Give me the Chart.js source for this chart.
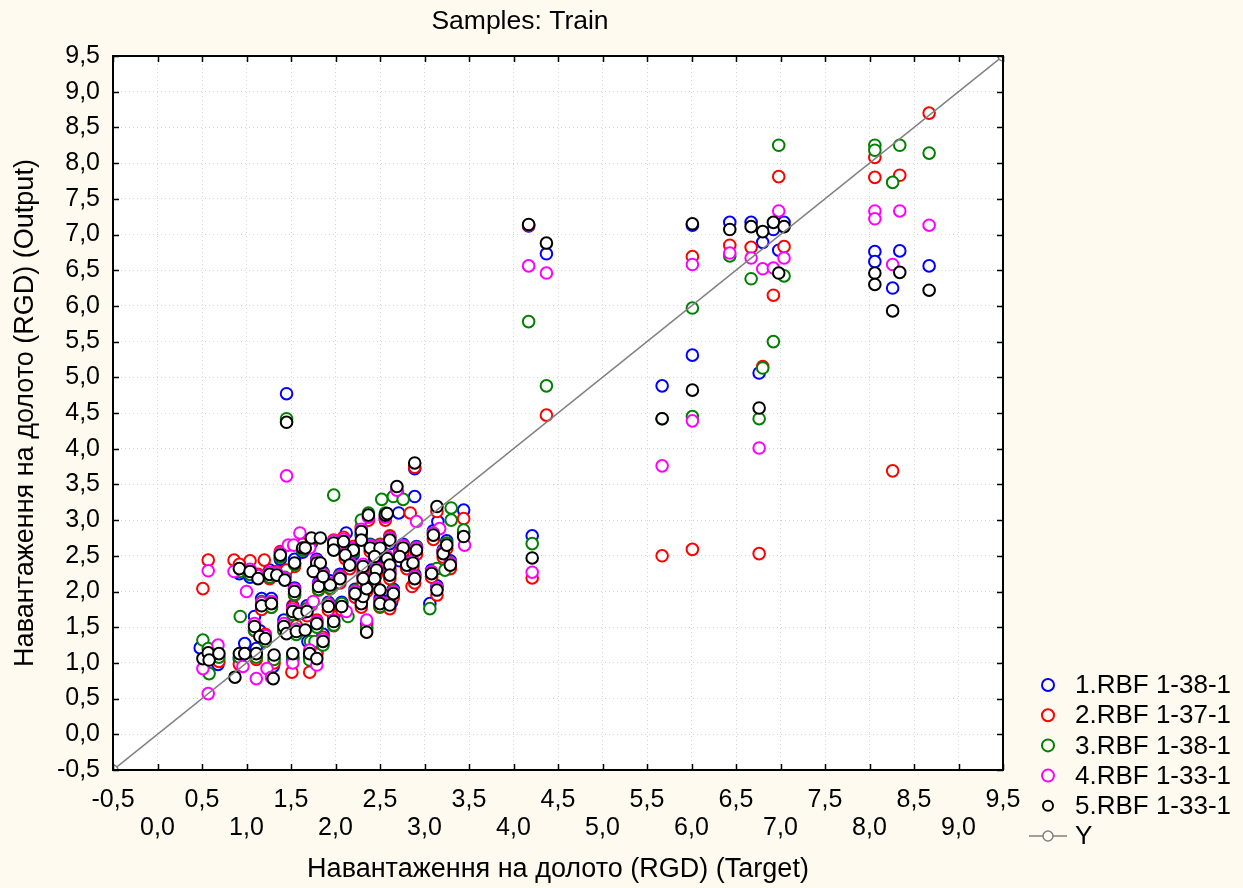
<!DOCTYPE html>
<html>
<head>
<meta charset="utf-8">
<script src="https://cdn.jsdelivr.net/npm/chart.js@4.4.1/dist/chart.umd.min.js"></script>
<style>
  html, body { margin: 0; padding: 0; background: #fefaf0; overflow: hidden; }
  canvas { display: block; }
</style>
</head>
<body>
<canvas id="c" width="1243" height="888"></canvas>
<script>
// ---------------- DATA ----------------
const chartTitle = 'Samples: Train';
const xAxisTitle = 'Навантаження на долото (RGD) (Target)';
const yAxisTitle = 'Навантаження на долото (RGD) (Output)';
const seriesNames = ['1.RBF 1-38-1', '2.RBF 1-37-1', '3.RBF 1-38-1', '4.RBF 1-33-1', '5.RBF 1-33-1'];
const lineName = 'Y';
const axisMin = -0.5;
const axisMax = 9.5;
const tickStep = 0.5;

// [target, output] pairs
const rbf1 = [
  [0.48,1.21],[0.57,1.10],[0.68,0.98],[0.92,1.05],[0.98,1.27],[1.09,1.65],[1.11,1.20],[1.15,1.45],[1.30,0.95],[1.42,1.60],
  [1.52,1.05],[1.56,1.50],[1.69,1.30],[1.79,1.15],[1.86,1.40],[1.98,1.65],[2.35,1.55],[1.17,1.90],[1.28,1.90],[1.52,1.80],
  [1.68,1.80],[1.54,2.05],[1.92,1.85],[2.07,1.85],[2.29,1.90],[2.50,1.90],[2.61,1.88],[2.22,2.03],[2.65,2.03],[2.35,2.10],
  [1.81,2.12],[1.94,2.15],[0.92,2.25],[1.04,2.20],[1.26,2.30],[1.43,2.22],[1.38,2.45],[1.54,2.45],[1.63,2.55],[1.73,2.68],
  [1.79,2.45],[1.98,2.62],[2.09,2.63],[2.12,2.82],[2.29,2.78],[2.39,2.66],[2.50,2.55],[2.61,2.67],[2.76,2.66],[2.91,2.63],
  [2.72,2.43],[2.44,2.43],[2.20,2.52],[2.16,2.42],[2.46,2.36],[2.80,2.42],[1.86,2.27],[2.05,2.24],[2.31,2.24],[2.61,2.29],
  [2.89,2.24],[3.08,2.30],[3.29,2.43],[3.21,2.58],[3.25,2.71],[3.10,2.85],[3.15,2.98],[3.44,3.14],[3.44,2.83],[2.37,3.02],
  [2.56,3.02],[2.71,3.10],[2.89,3.33],[2.69,3.40],[2.89,3.72],[3.06,1.83],[3.14,2.08],[1.71,1.08],[2.63,1.85],[1.45,4.77],
  [4.17,7.12],[4.21,2.78],[4.37,6.73],[5.67,4.88],[6.01,7.13],[6.01,5.31],[6.43,7.17],[6.67,7.17],[6.76,5.06],[6.80,6.89],
  [6.92,7.07],[6.98,6.78],[7.04,7.17],[8.06,6.76],[8.06,6.62],[8.26,6.25],[8.34,6.77],[8.67,6.56]
];
const rbf2 = [
  [0.51,2.04],[0.57,2.44],[0.86,2.44],[1.04,2.43],[1.20,2.44],[0.60,1.15],[0.69,1.02],[0.92,0.98],[1.11,1.05],[1.31,1.00],
  [1.51,0.87],[1.71,0.87],[1.79,1.12],[1.09,1.45],[1.21,1.40],[1.42,1.45],[1.56,1.52],[1.79,1.60],[1.86,1.36],[1.98,1.52],
  [2.35,1.50],[1.17,1.75],[1.28,1.78],[1.52,1.78],[1.68,1.66],[1.54,1.95],[1.92,1.74],[2.07,1.74],[2.29,1.78],[2.50,1.78],
  [2.61,1.76],[2.22,1.92],[2.65,1.92],[2.35,2.00],[1.81,2.02],[1.94,2.04],[2.86,2.07],[0.92,2.38],[1.13,2.24],[1.26,2.18],
  [1.34,2.28],[1.43,2.22],[1.38,2.56],[1.54,2.35],[1.63,2.66],[1.73,2.70],[1.79,2.35],[1.98,2.72],[2.09,2.76],[2.29,2.90],
  [2.39,2.56],[2.50,2.66],[2.61,2.78],[2.76,2.56],[2.91,2.52],[2.72,2.55],[2.58,2.40],[2.44,2.54],[2.20,2.63],[2.11,2.46],
  [2.16,2.32],[2.31,2.30],[2.46,2.24],[2.61,2.32],[2.80,2.32],[2.87,2.35],[1.86,2.16],[2.05,2.12],[2.31,2.12],[2.44,2.12],
  [2.61,2.18],[2.89,2.12],[3.08,2.20],[3.29,2.32],[3.21,2.48],[3.25,2.60],[3.10,2.73],[3.44,3.02],[2.84,3.10],[3.14,3.12],
  [2.37,3.00],[2.56,3.00],[2.69,3.40],[2.89,3.74],[3.14,1.95],[1.45,2.30],
  [4.17,7.13],[4.21,2.19],[4.37,4.47],[5.67,2.50],[6.01,6.69],[6.01,2.59],[6.43,6.85],[6.67,6.82],[6.76,2.53],[6.80,5.15],
  [6.92,6.15],[6.98,7.81],[7.04,6.83],[8.06,8.08],[8.06,7.80],[8.26,3.69],[8.34,7.83],[8.67,8.70]
];
const rbf3 = [
  [0.51,1.32],[0.58,0.85],[0.57,1.20],[0.69,1.08],[0.93,1.65],[0.92,1.08],[1.11,1.08],[1.31,1.05],[1.52,1.08],[1.71,1.04],
  [1.72,1.30],[1.77,1.30],[1.09,1.46],[1.21,1.30],[1.42,1.45],[1.56,1.40],[1.79,1.50],[1.86,1.25],[1.98,1.53],[2.35,1.48],
  [2.14,1.65],[1.17,1.86],[1.28,1.78],[1.52,1.68],[1.68,1.76],[1.54,1.96],[1.92,1.83],[2.07,1.83],[2.29,1.87],[2.50,1.79],
  [2.61,1.85],[2.22,2.01],[2.65,2.01],[2.35,2.08],[1.81,2.03],[1.94,2.05],[0.92,2.28],[1.04,2.24],[1.26,2.20],[1.43,2.20],
  [1.38,2.48],[1.54,2.38],[1.63,2.58],[1.73,2.72],[1.79,2.38],[1.98,2.64],[2.09,2.66],[2.29,3.00],[2.29,2.80],[2.39,2.65],
  [2.50,2.65],[2.61,2.76],[2.76,2.64],[2.91,2.62],[2.72,2.52],[2.44,2.52],[2.20,2.55],[2.16,2.40],[2.46,2.33],[2.80,2.40],
  [1.86,2.25],[2.05,2.22],[2.31,2.22],[2.61,2.26],[2.89,2.22],[3.14,2.32],[3.23,2.30],[3.29,2.41],[3.21,2.56],[3.25,2.68],
  [3.44,2.86],[3.30,3.00],[3.30,3.17],[3.10,2.82],[2.52,3.29],[2.65,3.33],[2.76,3.29],[1.98,3.35],[2.37,3.10],[2.56,3.10],
  [3.06,1.76],[3.14,2.05],[1.45,4.42],
  [4.17,5.78],[4.21,2.67],[4.37,4.88],[5.67,4.42],[6.01,5.97],[6.01,4.45],[6.43,6.70],[6.67,6.38],[6.76,4.42],[6.80,5.13],
  [6.92,5.50],[6.98,8.25],[7.04,6.42],[8.06,8.25],[8.06,8.18],[8.26,7.73],[8.34,8.25],[8.67,8.14]
];
const rbf4 = [
  [0.57,2.29],[0.57,0.57],[0.51,0.92],[0.68,1.25],[0.86,2.28],[1.00,2.00],[0.96,0.95],[1.11,0.78],[1.23,0.92],[1.28,0.80],
  [1.52,1.00],[1.79,0.97],[1.71,1.18],[1.09,1.55],[1.21,1.38],[1.42,1.55],[1.56,1.47],[1.79,1.58],[1.86,1.33],[1.98,1.60],
  [2.35,1.60],[1.63,1.70],[1.73,1.81],[1.75,1.86],[2.12,1.72],[1.17,1.84],[1.28,1.86],[1.52,1.75],[1.54,2.03],[1.92,1.82],
  [2.29,1.86],[2.50,1.86],[2.61,1.84],[2.22,2.00],[2.65,2.00],[2.35,2.07],[1.81,2.10],[1.94,2.12],[1.04,2.31],[1.13,2.22],
  [1.26,2.27],[1.34,2.26],[1.43,2.19],[1.38,2.54],[1.47,2.65],[1.53,2.65],[1.60,2.82],[1.71,2.61],[1.79,2.43],[1.98,2.71],
  [2.09,2.73],[2.29,2.87],[2.39,2.64],[2.50,2.64],[2.61,2.75],[2.76,2.64],[2.91,2.61],[2.72,2.52],[2.58,2.49],[2.44,2.52],
  [2.20,2.61],[2.11,2.54],[2.16,2.40],[2.31,2.38],[2.46,2.33],[2.61,2.40],[2.80,2.40],[1.86,2.24],[2.05,2.21],[2.31,2.21],
  [2.44,2.21],[2.61,2.26],[2.89,2.21],[3.08,2.28],[3.29,2.40],[3.21,2.56],[3.45,2.65],[3.17,2.88],[2.91,2.98],[3.10,2.82],
  [2.37,3.04],[2.56,3.04],[2.69,3.42],[3.14,2.05],[2.87,2.43],[1.45,3.62],
  [4.17,6.56],[4.21,2.27],[4.37,6.46],[5.67,3.76],[6.01,6.58],[6.01,4.39],[6.43,6.74],[6.67,6.67],[6.76,4.01],[6.80,6.52],
  [6.92,6.53],[6.98,7.33],[7.04,6.67],[8.06,7.33],[8.06,7.22],[8.26,6.58],[8.34,7.33],[8.67,7.13]
];
const rbf5 = [
  [0.51,1.06],[0.57,1.14],[0.58,1.04],[0.69,1.13],[0.87,0.80],[0.92,1.13],[0.98,1.13],[1.11,1.13],[1.30,0.78],[1.31,1.11],
  [1.52,1.13],[1.71,1.13],[1.79,1.06],[1.09,1.51],[1.15,1.37],[1.21,1.34],[1.42,1.51],[1.45,1.41],[1.56,1.44],[1.79,1.55],
  [1.66,1.46],[1.86,1.30],[1.98,1.58],[2.35,1.43],[1.17,1.80],[1.28,1.83],[1.52,1.72],[1.59,1.69],[1.68,1.72],[1.54,2.00],
  [1.92,1.79],[2.07,1.79],[2.29,1.83],[2.50,1.83],[2.61,1.81],[2.31,1.93],[2.22,1.97],[2.65,1.97],[2.35,2.04],[2.50,2.02],
  [1.81,2.07],[1.94,2.09],[3.14,2.02],[0.92,2.32],[1.04,2.28],[1.13,2.18],[1.26,2.24],[1.34,2.23],[1.43,2.16],[1.38,2.51],
  [1.54,2.40],[1.63,2.61],[1.73,2.75],[1.79,2.40],[1.83,2.75],[1.66,2.61],[1.98,2.68],[2.09,2.70],[2.29,2.84],[2.29,2.72],
  [2.39,2.61],[2.50,2.61],[2.61,2.72],[2.76,2.61],[2.91,2.58],[2.72,2.49],[2.58,2.46],[2.44,2.49],[2.20,2.58],[2.11,2.51],
  [1.98,2.58],[1.83,2.40],[1.75,2.28],[2.16,2.37],[2.31,2.35],[2.46,2.30],[2.61,2.37],[2.80,2.37],[2.87,2.40],[1.86,2.21],
  [2.05,2.18],[2.31,2.18],[2.44,2.18],[2.61,2.23],[2.89,2.18],[3.08,2.25],[3.29,2.37],[3.21,2.53],[3.25,2.65],[3.10,2.79],
  [3.44,2.77],[3.14,3.19],[2.37,3.07],[2.56,3.07],[2.58,3.09],[2.69,3.47],[2.89,3.80],[1.45,4.37],
  [4.17,7.14],[4.21,2.47],[4.37,6.88],[5.67,4.42],[6.01,7.15],[6.01,4.82],[6.43,7.07],[6.67,7.11],[6.76,4.57],[6.80,7.04],
  [6.92,7.17],[6.98,6.46],[7.04,7.11],[8.06,6.46],[8.06,6.30],[8.26,5.93],[8.34,6.47],[8.67,6.22]
];
const identityLine = [[-0.5,-0.5],[9.5,9.5]];

const seriesData = [rbf1, rbf2, rbf3, rbf4, rbf5];
const seriesColors = ['#0000ff', '#ff0000', '#008000', '#ff00ff', '#000000'];
const lineColor = '#808080';

// ---------------- CHART ----------------
const FONT = "'Liberation Sans', Arial, sans-serif";
const fmt = v => v.toFixed(1).replace('.', ',');
const toPts = arr => arr.map(p => ({x: p[0], y: p[1]}));

const datasets = seriesData.map((arr, i) => ({
  type: 'scatter',
  label: seriesNames[i],
  data: toPts(arr),
  borderColor: seriesColors[i],
  backgroundColor: '#ffffff',
  pointRadius: 5.8,
  pointBorderWidth: 2,
  pointStyle: 'circle',
  order: 5 - i
}));
datasets.push({
  type: 'line',
  label: lineName,
  data: toPts(identityLine),
  borderColor: lineColor,
  borderWidth: 1.5,
  pointRadius: 5,
  pointBorderWidth: 1.5,
  pointBorderColor: lineColor,
  pointBackgroundColor: '#ffffff',
  fill: false,
  order: -1
});

const framePlugin = {
  id: 'frame',
  beforeDraw(chart) {
    const {ctx, chartArea: a} = chart;
    ctx.save();
    ctx.fillStyle = '#fefaf0';
    ctx.fillRect(0, 0, chart.width, chart.height);
    ctx.fillStyle = '#ffffff';
    ctx.fillRect(a.left, a.top, a.right - a.left, a.bottom - a.top);
    ctx.restore();
  },
  afterDraw(chart) {
    const {ctx, chartArea: a, scales} = chart;
    ctx.save();
    ctx.strokeStyle = '#000';
    ctx.lineWidth = 2;
    ctx.strokeRect(a.left, a.top, a.right - a.left, a.bottom - a.top);
    ctx.lineWidth = 1.5;
    ctx.beginPath();
    scales.x.ticks.forEach(t => {
      const px = Math.round(scales.x.getPixelForValue(t.value)) + 0.5;
      ctx.moveTo(px, a.bottom); ctx.lineTo(px, a.bottom - 6);
      ctx.moveTo(px, a.top); ctx.lineTo(px, a.top + 6);
    });
    scales.y.ticks.forEach(t => {
      const py = Math.round(scales.y.getPixelForValue(t.value)) + 0.5;
      ctx.moveTo(a.left, py); ctx.lineTo(a.left + 6, py);
      ctx.moveTo(a.right, py); ctx.lineTo(a.right - 6, py);
    });
    ctx.stroke();

    // title
    ctx.fillStyle = '#000';
    ctx.font = '26.5px ' + FONT;
    ctx.textAlign = 'center';
    ctx.textBaseline = 'middle';
    ctx.fillText(chartTitle, 520, 22);

    // legend
    const lx = 1048, tx = 1075, y0 = 685, dy = 30.2;
    ctx.font = '26px ' + FONT;
    ctx.textBaseline = 'middle';
    ctx.textAlign = 'left';
    seriesNames.forEach((name, i) => {
      const y = y0 + i * dy;
      ctx.beginPath();
      ctx.arc(lx, y, i === 4 ? 5 : 6, 0, Math.PI * 2);
      ctx.fillStyle = '#fefaf0';
      ctx.fill();
      ctx.lineWidth = 2;
      ctx.strokeStyle = seriesColors[i];
      ctx.stroke();
      ctx.fillStyle = '#000';
      ctx.fillText(name, tx, y + 1);
    });
    const yl = y0 + 5 * dy;
    ctx.strokeStyle = lineColor;
    ctx.lineWidth = 1.5;
    ctx.beginPath();
    ctx.moveTo(1029, yl); ctx.lineTo(1067, yl);
    ctx.stroke();
    ctx.beginPath();
    ctx.arc(lx, yl, 5, 0, Math.PI * 2);
    ctx.fillStyle = '#fefaf0';
    ctx.fill();
    ctx.stroke();
    ctx.fillStyle = '#000';
    ctx.fillText(lineName, tx, yl + 1);
    ctx.restore();
  }
};

new Chart(document.getElementById('c'), {
  type: 'scatter',
  data: { datasets },
  plugins: [framePlugin],
  options: {
    responsive: false,
    animation: false,
    events: [],
    layout: { padding: { left: 0, right: 240, top: 56, bottom: 0 } },
    plugins: {
      legend: { display: false },
      tooltip: { enabled: false },
      title: { display: false }
    },
    scales: {
      x: {
        type: 'linear',
        min: axisMin, max: axisMax,
        afterFit(scale) { scale.height = 118; },
        ticks: {
          stepSize: tickStep,
          autoSkip: false,
          maxRotation: 0,
          color: '#000',
          padding: 16,
          font: { family: FONT, size: 25, lineHeight: 1.12 },
          callback: (v, i) => (i % 2 === 0 ? [fmt(v), ''] : ['', fmt(v)])
        },
        grid: { color: '#d4d4d4', lineWidth: 1, drawTicks: false },
        border: { display: false, dash: [1, 3] },
        title: {
          display: true,
          text: xAxisTitle,
          color: '#000',
          font: { family: FONT, size: 27, lineHeight: 1.2 },
          padding: { top: 0, bottom: 2 }
        }
      },
      y: {
        type: 'linear',
        min: axisMin, max: axisMax,
        afterFit(scale) { scale.width = 113; },
        ticks: {
          stepSize: tickStep,
          autoSkip: false,
          color: '#000',
          padding: 13,
          font: { family: FONT, size: 25 },
          callback: v => fmt(v)
        },
        grid: { color: '#d4d4d4', lineWidth: 1, drawTicks: false },
        border: { display: false, dash: [1, 3] },
        title: {
          display: true,
          text: yAxisTitle,
          color: '#000',
          font: { family: FONT, size: 27, lineHeight: 1.2 },
          padding: { top: 9, bottom: 0 }
        }
      }
    }
  }
});
</script>
</body>
</html>
